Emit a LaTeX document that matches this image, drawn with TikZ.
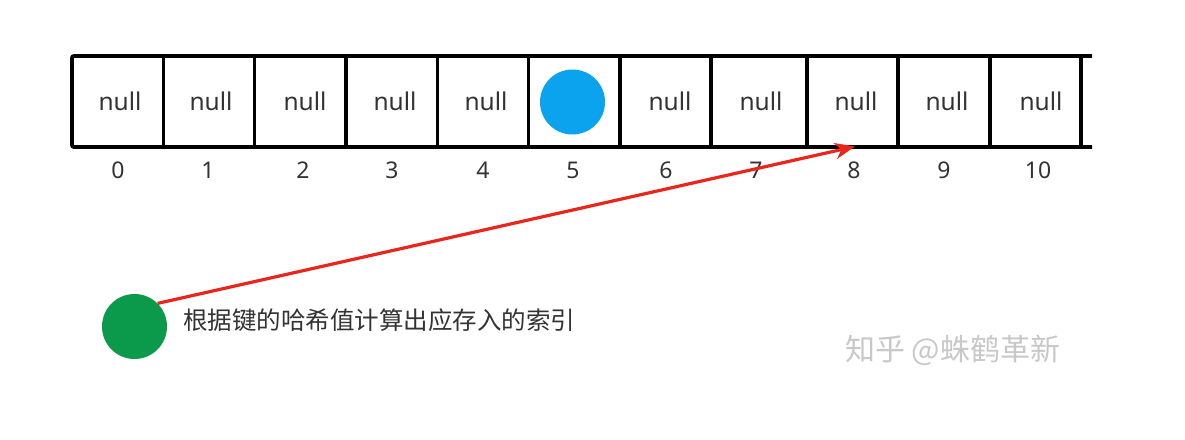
\documentclass[tikz,border=0pt]{standalone}
\usepackage{fontspec}
\setmainfont{Noto Sans}
\newfontfamily\cjk{Noto Sans CJK SC}
\usetikzlibrary{arrows.meta}
\definecolor{txt}{HTML}{333333}
\definecolor{blueball}{HTML}{0BA2EE}
\definecolor{greenball}{HTML}{0B9A4C}
\definecolor{arrowred}{HTML}{E8261C}
\definecolor{wm}{HTML}{C8C8C8}
\tikzset{
  celltext/.style={text=txt, font=\fontsize{24.5}{24.5}\selectfont, inner sep=0pt, anchor=center},
  idx/.style={text=txt, font=\fontsize{23}{23}\selectfont, inner sep=0pt, anchor=center},
  frame/.style={line width=3.8pt, black},
  ball/.style={circle, inner sep=0pt, minimum size=65pt},
  hasharrow/.style={arrowred, line width=3.2pt, -{Stealth[length=20pt,width=16pt,inset=6pt]}},
}
\begin{document}
\begin{tikzpicture}[x=1pt,y=-1pt]
\useasboundingbox[fill=white] (0,0) rectangle (1185,439);
% array frame
\draw[frame, rounded corners=2pt] (1092,56) -- (72,56) -- (72,147) -- (1092,147);
\foreach \x in {163.5,254.5,346,437.5,528.5,620,711,807,898,990,1081}
  \draw[frame] (\x,56) -- (\x,147);
% cell contents
\node[celltext] (c0) at (120,101) {null};
\node[celltext] (c1) at (211,101) {null};
\node[celltext] (c2) at (305,101) {null};
\node[celltext] (c3) at (395,101) {null};
\node[celltext] (c4) at (486,101) {null};
\node[ball, fill=blueball] (c5) at (572.5,102) {};
\node[celltext] (c6) at (670,101) {null};
\node[celltext] (c7) at (761,101) {null};
\node[celltext] (c8) at (856,101) {null};
\node[celltext] (c9) at (947,101) {null};
\node[celltext] (c10) at (1041,101) {null};
% indices
\node[idx] (i0) at (118,170) {0};
\node[idx] (i1) at (208,170) {1};
\node[idx] (i2) at (303,170) {2};
\node[idx] (i3) at (392,170) {3};
\node[idx] (i4) at (483,170) {4};
\node[idx] (i5) at (573,170) {5};
\node[idx] (i6) at (666,170) {6};
\node[idx] (i7) at (756,170) {7};
\node[idx] (i8) at (854,170) {8};
\node[idx] (i9) at (944,170) {9};
\node[idx] (i10) at (1038,170) {10};
% key
\node[ball, fill=greenball] (g) at (134.5,326.5) {};
\node[text=txt, font=\cjk\fontsize{24.5}{24.5}\selectfont, inner sep=0pt, anchor=west] (lbl) at (183,320) {根据键的哈希值计算出应存入的索引};
\coordinate (t) at (855,146.5);
\draw[hasharrow] (g.45) -- (t);
% watermark
\node[text=wm, font=\cjk\fontsize{30}{30}\selectfont, inner sep=0pt, anchor=west] (wmk) at (845,350) {知乎 @蛛鹤革新};
\end{tikzpicture}
\end{document}
